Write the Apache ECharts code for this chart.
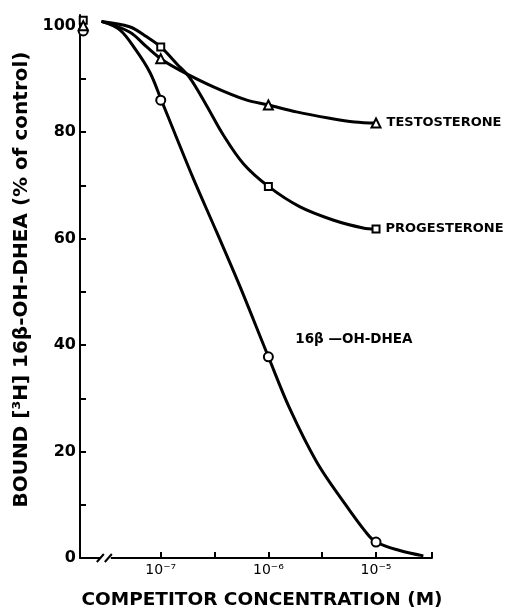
<!DOCTYPE html>
<html><head><meta charset="utf-8">
<script src="https://cdn.jsdelivr.net/npm/echarts@6/dist/echarts.min.js"></script>
<style>html,body{margin:0;padding:0;background:#fff}#c{width:512px;height:611px}</style>
</head><body><div id="c"></div>
<script>
// x values are log10 of competitor concentration (M)
const controlX = -7.72;               // no-competitor control, drawn left of the axis break
const logConc = [-7, -6, -5];
const xTickExps = [-7, -6, -5];
const xMinorTicks = [-7, -6.5, -6, -5.5, -5, -4.48];
const yTickLabels = [0, 20, 40, 60, 80, 100];
const yTicks = [0, 10, 20, 30, 40, 50, 60, 70, 80, 90, 100];

// measured points
const dheaControl = 99, progControl = 101, testoControl = 100;
const dheaValues = [86, 37.8, 3];
const progValues = [96, 69.8, 61.8];
const testoValues = [93.8, 85.1, 81.7];

// hand-drawn fitted curves: [log10 conc, % bound]
const dheaCurve = [[-7.55,100.8],[-7.38,99.2],[-7.23,95.4],[-7.1,91.2],[-7,86.3],[-6.85,78.8],[-6.7,71.4],[-6.48,61.2],[-6.27,51.3],[-6,37.8],[-5.8,28],[-5.55,18],[-5.3,10.5],[-5.1,5],[-5,3],[-4.78,1.4],[-4.56,0.4]];
const progCurve = [[-7.55,100.8],[-7.29,99.8],[-7.13,97.9],[-7,96],[-6.85,92.8],[-6.73,90.2],[-6.58,85.2],[-6.42,79.5],[-6.23,74],[-6,69.8],[-5.71,66],[-5.4,63.5],[-5.12,62],[-5,61.8]];
const testoCurve = [[-7.55,100.8],[-7.29,98.8],[-7.13,96],[-7,93.8],[-6.82,91.6],[-6.51,88.5],[-6.2,86],[-6,85.1],[-5.74,83.8],[-5.43,82.6],[-5.2,81.9],[-5,81.7]];

const seriesLabels = ['TESTOSTERONE', 'PROGESTERONE', '16\u03B2 \u2014OH-DHEA'];

const supMap = {'-':'\u207B','0':'\u2070','1':'\u00B9','2':'\u00B2','3':'\u00B3','4':'\u2074','5':'\u2075','6':'\u2076','7':'\u2077','8':'\u2078','9':'\u2079'};
function sup(n){ return String(n).split('').map(c=>supMap[c]||c).join(''); }

function pts(vals, ctrl){ return [[controlX, ctrl]].concat(logConc.map((x,i)=>[x, vals[i]])); }

const chart = echarts.init(document.getElementById('c'), null, {renderer:'canvas'});
const lineStyle = {color:'#000', width:3};
const markerStyle = {color:'#fff', borderColor:'#000', borderWidth:2, opacity:1};
const lbl = {fontFamily:'DejaVu Sans', fontWeight:'bold', fontSize:13, color:'#000'};

chart.setOption({
  animation:false,
  backgroundColor:'#fff',
  grid:{left:80, right:80, top:15, bottom:53, containLabel:false, outerBoundsMode:'none'},
  xAxis:{
    type:'value', min:-7.75, max:-4.48,
    axisLine:{show:true, onZero:false, lineStyle:{color:'#000', width:2}},
    axisTick:{show:true, inside:true, length:6, lineStyle:{color:'#000', width:2}, customValues:xMinorTicks},
    axisLabel:{customValues:xTickExps, formatter:v=>'10'+sup(Math.round(v)), color:'#000', fontFamily:'DejaVu Sans', fontSize:14, margin:5},
    splitLine:{show:false},
    name:'COMPETITOR CONCENTRATION (M)', nameLocation:'middle', nameGap:33,
    nameTextStyle:{color:'#000', fontFamily:'DejaVu Sans', fontSize:18.5, fontWeight:'bold', padding:[0,0,0,12]}
  },
  yAxis:{
    type:'value', min:0, max:102,
    axisLine:{show:true, lineStyle:{color:'#000', width:2}},
    axisTick:{show:true, inside:true, length:6, lineStyle:{color:'#000', width:2}, customValues:yTicks},
    axisLabel:{customValues:yTickLabels, color:'#000', fontFamily:'DejaVu Sans', fontWeight:'bold', fontSize:16, margin:4},
    splitLine:{show:false},
    name:'BOUND [\u00B3H] 16\u03B2-OH-DHEA (% of control)', nameLocation:'middle', nameGap:44,
    nameTextStyle:{color:'#000', fontFamily:'DejaVu Sans', fontSize:20, fontWeight:'bold', padding:[0,0,0,14]}
  },
  series:[
    {type:'line', data:dheaCurve, smooth:0.35, symbol:'none', lineStyle:lineStyle, z:2},
    {type:'line', data:progCurve, smooth:0.35, symbol:'none', lineStyle:lineStyle, z:2},
    {type:'line', data:testoCurve, smooth:0.35, symbol:'none', lineStyle:lineStyle, z:2},
    {type:'scatter', data:pts(dheaValues, dheaControl), symbol:'circle', symbolSize:9, itemStyle:markerStyle, z:5},
    {type:'scatter', data:pts(progValues, progControl), symbol:'rect', symbolSize:7, itemStyle:markerStyle, z:5,
      label:{show:true, position:'right', distance:5, formatter:p=>p.dataIndex===3?seriesLabels[1]:'', ...lbl}},
    {type:'scatter', data:pts(testoValues, testoControl), symbol:'triangle', symbolSize:9, itemStyle:markerStyle, z:5,
      label:{show:true, position:'right', distance:5, formatter:p=>p.dataIndex===3?seriesLabels[0]:'', ...lbl}}
  ]
});

// axis break mark and free label for 16beta-OH-DHEA
const b = chart.convertToPixel({gridIndex:0}, [-7.51, 0]);
const lp = chart.convertToPixel({gridIndex:0}, [-5.75, 41]);
chart.setOption({graphic:[
  {type:'rect', shape:{x:b[0]-5, y:b[1]-2, width:10, height:4}, style:{fill:'#fff'}, z:100},
  {type:'line', shape:{x1:b[0]-9, y1:b[1]+4, x2:b[0]-2, y2:b[1]-4}, style:{stroke:'#000', lineWidth:2}, z:101},
  {type:'line', shape:{x1:b[0]-1, y1:b[1]+4, x2:b[0]+6, y2:b[1]-4}, style:{stroke:'#000', lineWidth:2}, z:101},
  {type:'text', x:lp[0], y:lp[1], style:{text:seriesLabels[2], ...lbl, fontSize:13.5, fill:'#000', verticalAlign:'middle'}, z:101}
]});
</script></body></html>
